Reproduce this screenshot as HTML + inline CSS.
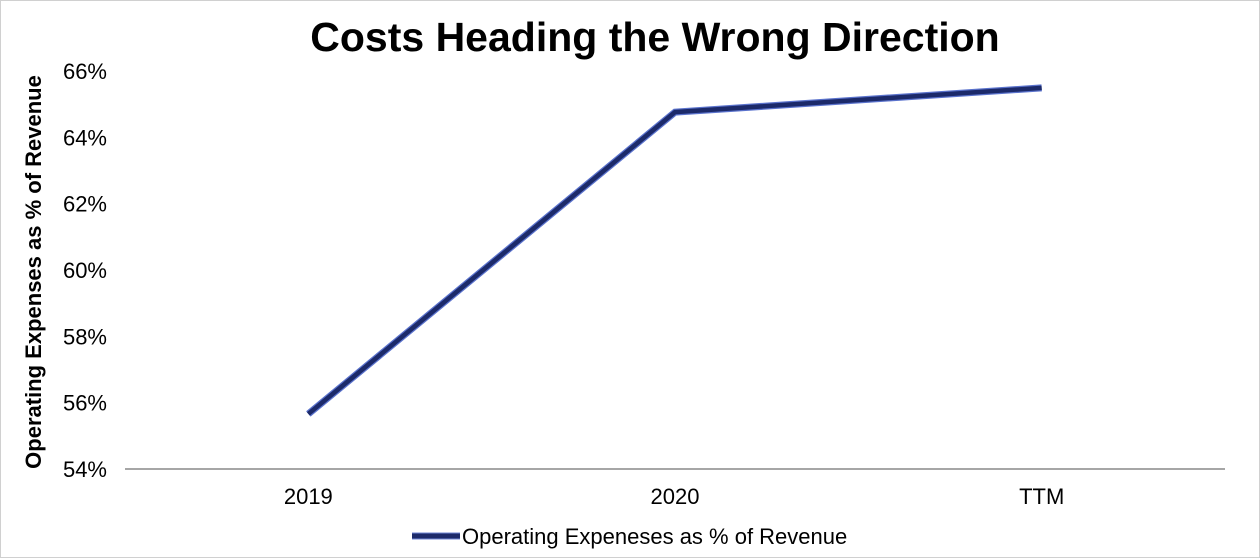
<!DOCTYPE html>
<html><head><meta charset="utf-8"><style>
body{margin:0;background:#fff;}
svg{display:block;font-family:"Liberation Sans",Arial,sans-serif;}
</style></head><body>
<svg id="chart" width="1260" height="560">
<rect x="0.5" y="0.5" width="1259" height="557" fill="#fff" stroke="#d0d0d0"/>
<text x="655" y="51" text-anchor="middle" font-size="41" font-weight="bold" fill="#000">Costs Heading the Wrong Direction</text>
<text transform="translate(41,272) rotate(-90)" text-anchor="middle" font-size="22" font-weight="bold" fill="#000">Operating Expenses as % of Revenue</text>
<g id="yticks"></g>
<line x1="125" y1="469" x2="1225" y2="469" stroke="#888" stroke-width="1.5"/>
<g id="xticks"></g>
<g id="series"></g>
<g>
<line x1="412" y1="536" x2="460" y2="536" stroke="#6f86d6" stroke-width="7"/>
<line x1="412" y1="536" x2="460" y2="536" stroke="#1c2a6a" stroke-width="5"/>
<text x="462" y="544" font-size="22" fill="#000">Operating Expeneses as % of Revenue</text>
</g>
</svg>
<script>
const categories = ["2019", "2020", "TTM"];
const values = [55.66, 64.76, 65.49];
const yTicks = [54, 56, 58, 60, 62, 64, 66];
const yTickLabels = ["54%", "56%", "58%", "60%", "62%", "64%", "66%"];

const NS = "http://www.w3.org/2000/svg";
const plotL = 125, plotR = 1225, yMin = 54, yMax = 66, pxBottom = 469, pxTop = 71;
function xPos(i){ const w = (plotR - plotL) / categories.length; return plotL + w * (i + 0.5); }
function yPos(v){ return pxBottom - (v - yMin) / (yMax - yMin) * (pxBottom - pxTop); }

const yg = document.getElementById("yticks");
yTicks.forEach((t, i) => {
  const el = document.createElementNS(NS, "text");
  el.setAttribute("x", 107);
  el.setAttribute("y", yPos(t) + 8);
  el.setAttribute("text-anchor", "end");
  el.setAttribute("font-size", "22");
  el.textContent = yTickLabels[i];
  
  
  yg.appendChild(el);
});
const xg = document.getElementById("xticks");
categories.forEach((c, i) => {
  const el = document.createElementNS(NS, "text");
  el.setAttribute("x", xPos(i));
  el.setAttribute("y", 504);
  el.setAttribute("text-anchor", "middle");
  el.setAttribute("font-size", "22");
  el.textContent = c;
  
  
  xg.appendChild(el);
});
const pts = values.map((v, i) => xPos(i) + "," + yPos(v)).join(" ");
const sg = document.getElementById("series");
const outline = document.createElementNS(NS, "polyline");
outline.setAttribute("points", pts);
outline.setAttribute("fill", "none");
outline.setAttribute("stroke", "#5a72cc");
outline.setAttribute("stroke-width", "7");


sg.appendChild(outline);
const line = document.createElementNS(NS, "polyline");
line.setAttribute("points", pts);
line.setAttribute("fill", "none");
line.setAttribute("stroke", "#1c2a6a");
line.setAttribute("stroke-width", "4.5");


sg.appendChild(line);
</script>
</body></html>
